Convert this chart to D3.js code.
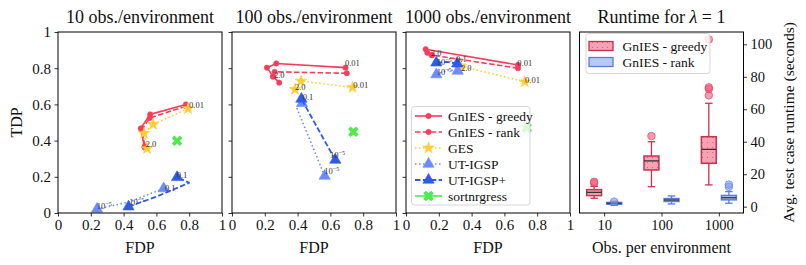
<!DOCTYPE html>
<html><head><meta charset="utf-8">
<script src="https://cdn.jsdelivr.net/npm/d3@7"></script>
<style>
body{margin:0;background:#fff}
svg{display:block}
text{font-family:"Liberation Serif","Times New Roman",serif;fill:#111}
</style>
</head><body>
<svg id="c" width="806" height="265"></svg>
<script>
// ---------------- data ----------------
const panelTitles = ["10 obs./environment", "100 obs./environment", "1000 obs./environment"];
const axisTicks = [0, 0.2, 0.4, 0.6, 0.8, 1];
const axisTickLabels = ["0", "0.2", "0.4", "0.6", "0.8", "1"];

// [FDP, TDP] per panel
const gniesGreedy = [
  [[0.78,0.60],[0.562,0.545],[0.505,0.468],[0.527,0.363]],
  [[0.692,0.803],[0.27,0.826],[0.213,0.803],[0.25,0.755],[0.288,0.72]],
  [[0.683,0.818],[0.12,0.905],[0.13,0.885],[0.155,0.873]]
];
const gniesRank = [
  [[0.78,0.59],[0.56,0.525],[0.51,0.46],[0.53,0.37]],
  [[0.70,0.772],[0.26,0.78],[0.25,0.753]],
  [[0.683,0.80],[0.16,0.872]]
];
const ges = [
  [[0.793,0.577],[0.58,0.49],[0.525,0.44],[0.543,0.356]],
  [[0.735,0.694],[0.421,0.729],[0.384,0.683]],
  [[0.724,0.725],[0.335,0.812],[0.322,0.80]]
];
const utIgsp = [
  [[0.238,0.022],[0.43,0.06],[0.644,0.135]],
  [[0.565,0.204],[0.392,0.587],[0.427,0.606]],
  [[0.185,0.765],[0.25,0.79],[0.315,0.785]]
];
const utIgspPlus = [
  [[0.43,0.035],[0.60,0.09],[0.80,0.167],[0.726,0.197]],
  [[0.63,0.293],[0.423,0.63]],
  [[0.185,0.83],[0.25,0.835],[0.312,0.825]]
];
const sortnregress = [[0.726,0.399],[0.74,0.449],[0.736,0.47]];

// [FDP, TDP, label]
const annotations = [
  [[0.799,0.58,"0.01"],[0.535,0.365,"2.0"],[0.724,0.193,"0.1"],[0.652,0.119,"0.1"],[0.236,0.022,"1e-5"],[0.435,0.044,"1e-5"]],
  [[0.689,0.812,"0.01"],[0.256,0.746,"2.0"],[0.384,0.68,"2.0"],[0.74,0.69,"0.01"],[0.431,0.624,"0.1"],[0.598,0.304,"1e-5"],[0.563,0.215,"1e-5"]],
  [[0.151,0.867,"2.0"],[0.726,0.72,"0.01"],[0.679,0.812,"0.01"],[0.335,0.782,"2.0"],[0.187,0.818,"1e-5"],[0.305,0.835,"0.1"],[0.187,0.762,"1e-5"]]
];

const methodNames = ["GnIES - greedy","GnIES - rank","GES","UT-IGSP","UT-IGSP+","sortnrgress"];

// runtime box plots: [whiskerLow, q1, median, q3, whiskerHigh]
const runtimeCategories = ["10","100","1000"];
const greedyBoxes = [[5.2,6.8,8.8,10.5,12.5],[12.3,22.6,28.2,31.2,40.0],[13.4,26.7,35.3,43.1,63.7]];
const greedyOutliers = [[14.5,15.3],[43.5],[68.6,72.5,73.5,103.0]];
const rankBoxes = [[0.8,1.5,2.1,2.6,3.3],[1.7,3.2,4.1,5.0,6.6],[2.1,4.2,5.5,6.9,9.3]];
const rankOutliers = [[3.1],[],[12.2,13.6]];
const runtimeTicks = [0,20,40,60,80,100];
const boxLegend = ["GnIES - greedy","GnIES - rank"];

// ---------------- drawing ----------------
const svg = d3.select("#c");
const yTop = 32, yBot = 213, pw = 164;
const panelX = [58, 232, 406];
const red = "#f83c5c", gold = "#ffcc33", lblue = "#6b8cff", dblue = "#2e5aea", green = "#4eea4e";
const methods = [
  {data: gniesGreedy, color: red, dash: null, marker: "circle", width: 1.6},
  {data: gniesRank, color: red, dash: "5.5,2.4", marker: "circle", width: 1.6},
  {data: ges, color: gold, dash: "1.5,2.5", marker: "star", width: 1.6},
  {data: utIgsp, color: lblue, dash: "1.5,2.5", marker: "triangle", width: 1.6, endsOnly: true},
  {data: utIgspPlus, color: dblue, dash: "5.5,2.4", marker: "triangle", width: 1.8, endsOnly: true},
];
const symGen = {
  circle: d3.symbol().type(d3.symbolCircle).size(22),
  star: d3.symbol().type(d3.symbolStar).size(42),
  triangle: d3.symbol().type(d3.symbolTriangle).size(55),
  x: d3.symbol().type(d3.symbolCross).size(70)
};
const y = d3.scaleLinear().domain([0,1]).range([yBot, yTop]);

function drawMarker(g, kind, color, px, py) {
  const p = g.append("path").attr("d", symGen[kind]()).attr("fill", color).attr("stroke", color).attr("stroke-width", 0.6);
  if (kind === "x") p.attr("transform", `translate(${px},${py}) rotate(45)`).attr("stroke", "none");
  else p.attr("transform", `translate(${px},${py})`);
}

function addLabel(g, px, py, lab, size) {
  const t = g.append("text").attr("x", px).attr("y", py).attr("font-size", size).style("fill", "#333");
  if (lab === "1e-5") {
    t.append("tspan").text("10");
    t.append("tspan").attr("font-size", size * 0.72).attr("dy", -size * 0.4).text("−5");
  } else t.text(lab);
}

panelX.forEach((x0, pi) => {
  const x = d3.scaleLinear().domain([0,1]).range([x0, x0 + pw]);
  const g = svg.append("g");
  methods.forEach(m => {
    const pts = m.data[pi];
    g.append("path").datum(pts)
      .attr("d", d3.line().x(d => x(d[0])).y(d => y(d[1])))
      .attr("fill", "none").attr("stroke", m.color).attr("stroke-width", m.width)
      .attr("stroke-dasharray", m.dash).attr("stroke-linejoin", "round");
    pts.forEach((d, i) => {
      if (m.endsOnly && i !== 0 && i !== pts.length - 1) return;
      drawMarker(g, m.marker, m.color, x(d[0]), y(d[1]));
    });
  });
  drawMarker(g, "x", green, x(sortnregress[pi][0]), y(sortnregress[pi][1]));
  annotations[pi].forEach(a => addLabel(g, x(a[0]), y(a[1]), a[2], 8.5));

  const xa = svg.append("g").attr("transform", `translate(0,${yBot})`)
    .call(d3.axisBottom(x).tickValues(axisTicks).tickFormat((d,i) => axisTickLabels[i]).tickSize(3.5).tickPadding(3));
  const ya = svg.append("g").attr("transform", `translate(${x0},0)`)
    .call(d3.axisLeft(y).tickValues(axisTicks).tickFormat((d,i) => pi === 0 ? axisTickLabels[i] : "").tickSize(3.5).tickPadding(3.5));
  [xa, ya].forEach(a => {
    a.select(".domain").remove();
    a.selectAll("line").attr("stroke", "#000").attr("stroke-width", 0.8);
    a.selectAll("text").attr("font-size", 15).attr("font-family", "Liberation Serif");
  });
  xa.selectAll("text").attr("dy", "0.72em");
  svg.append("rect").attr("x", x0).attr("y", yTop).attr("width", pw).attr("height", yBot - yTop)
    .attr("fill", "none").attr("stroke", "#000").attr("stroke-width", 1);
  svg.append("text").attr("x", x0 + pw / 2).attr("y", 23).attr("text-anchor", "middle").attr("font-size", 18).text(panelTitles[pi]);
  svg.append("text").attr("x", x0 + pw / 2).attr("y", 253).attr("text-anchor", "middle").attr("font-size", 16).text("FDP");
});
svg.append("text").attr("transform", `translate(16,${(yTop + yBot) / 2}) rotate(-90)`)
  .attr("text-anchor", "middle").attr("dominant-baseline", "central").attr("font-size", 16).text("TDP");

// legend (panel 3)
{
  const lg = svg.append("g");
  lg.append("rect").attr("x", 411.5).attr("y", 106.5).attr("width", 118.5).attr("height", 98.5).attr("rx", 3)
    .attr("fill", "#fff").attr("fill-opacity", 0.8).attr("stroke", "#ccc").attr("stroke-width", 0.8);
  const legendStyles = [...methods, {color: green, dash: null, marker: "x", width: 1.6}];
  legendStyles.forEach((m, i) => {
    const yy = 116 + i * 16;
    lg.append("line").attr("x1", 415).attr("x2", 442).attr("y1", yy).attr("y2", yy)
      .attr("stroke", m.color).attr("stroke-width", m.width).attr("stroke-dasharray", m.dash);
    drawMarker(lg, m.marker, m.color, 428.5, yy);
    lg.append("text").attr("x", 448).attr("y", yy).attr("dominant-baseline", "central").attr("font-size", 13.5).text(methodNames[i]);
  });
}

// ---------------- runtime panel ----------------
{
  const x0 = 579.5;
  const xr = d3.scalePoint().domain(runtimeCategories).range([x0, x0 + pw]).padding(0.43);
  const yr = d3.scaleLinear().domain([-3.9, 107.6]).range([yBot, yTop]);
  const defs = svg.append("defs");
  const pat = defs.append("pattern").attr("id", "dots").attr("patternUnits", "userSpaceOnUse").attr("width", 5).attr("height", 5);
  pat.append("rect").attr("width", 5).attr("height", 5).attr("fill", "#f7a2b2");
  pat.append("circle").attr("cx", 2.5).attr("cy", 2.5).attr("r", 0.6).attr("fill", "#d85a74");
  const step = xr.step();
  const bw = step * 0.26, off = step * 0.175;
  const sets = [
    {boxes: greedyBoxes, outl: greedyOutliers, dx: -off, fill: "url(#dots)", edge: "#c9304f", ofill: "#f25677", oedge: "#d23c5a"},
    {boxes: rankBoxes, outl: rankOutliers, dx: off, fill: "#b9c8f8", edge: "#5a7ce0", ofill: "#7f9cf2", oedge: "#5a7ce0"}
  ];
  const g = svg.append("g");
  sets.forEach(s => {
    runtimeCategories.forEach((c, i) => {
      const cx = xr(c) + s.dx;
      const [lo, q1, md, q3, hi] = s.boxes[i];
      g.append("line").attr("x1", cx).attr("x2", cx).attr("y1", yr(hi)).attr("y2", yr(q3)).attr("stroke", s.edge).attr("stroke-width", 1.3);
      g.append("line").attr("x1", cx).attr("x2", cx).attr("y1", yr(q1)).attr("y2", yr(lo)).attr("stroke", s.edge).attr("stroke-width", 1.3);
      [lo, hi].forEach(v => g.append("line").attr("x1", cx - bw / 4).attr("x2", cx + bw / 4).attr("y1", yr(v)).attr("y2", yr(v)).attr("stroke", s.edge).attr("stroke-width", 1.3));
      g.append("rect").attr("x", cx - bw / 2).attr("y", yr(q3)).attr("width", bw).attr("height", yr(q1) - yr(q3))
        .attr("fill", s.fill).attr("stroke", s.edge).attr("stroke-width", 1.5);
      g.append("line").attr("x1", cx - bw / 2).attr("x2", cx + bw / 2).attr("y1", yr(md)).attr("y2", yr(md)).attr("stroke", "#333").attr("stroke-width", 1.3);
      s.outl[i].forEach(v => g.append("circle").attr("cx", cx).attr("cy", yr(v)).attr("r", 3.8)
        .attr("fill", s.ofill).attr("fill-opacity", 0.6).attr("stroke", s.oedge).attr("stroke-opacity", 0.6).attr("stroke-width", 1));
    });
  });
  const xa = svg.append("g").attr("transform", `translate(0,${yBot})`).call(d3.axisBottom(xr).tickSize(3.5).tickPadding(3));
  const ya = svg.append("g").attr("transform", `translate(${x0 + pw},0)`).call(d3.axisRight(yr).tickValues(runtimeTicks).tickSize(3.5).tickPadding(3.5));
  [xa, ya].forEach(a => {
    a.select(".domain").remove();
    a.selectAll("line").attr("stroke", "#000").attr("stroke-width", 0.8);
    a.selectAll("text").attr("font-size", 14.5).attr("font-family", "Liberation Serif");
  });
  xa.selectAll("text").attr("dy", "0.72em");
  svg.append("rect").attr("x", x0).attr("y", yTop).attr("width", pw).attr("height", yBot - yTop)
    .attr("fill", "none").attr("stroke", "#000").attr("stroke-width", 1);
  const tt = svg.append("text").attr("x", x0 + pw / 2).attr("y", 23).attr("text-anchor", "middle").attr("font-size", 18);
  tt.append("tspan").text("Runtime for ");
  tt.append("tspan").attr("font-style", "italic").text("λ");
  tt.append("tspan").text(" = 1");
  svg.append("text").attr("x", x0 + pw / 2).attr("y", 253).attr("text-anchor", "middle").attr("font-size", 16).text("Obs. per environment");
  svg.append("text").attr("transform", `translate(788,${(yTop + yBot) / 2}) rotate(-90)`)
    .attr("text-anchor", "middle").attr("dominant-baseline", "central").attr("font-size", 15.5).text("Avg. test case runtime (seconds)");
  const lg = svg.append("g");
  lg.append("rect").attr("x", 586).attr("y", 33.5).attr("width", 124).attr("height", 40).attr("rx", 3)
    .attr("fill", "#fff").attr("fill-opacity", 0.8).attr("stroke", "#ccc").attr("stroke-width", 0.8);
  sets.forEach((s, i) => {
    const yy = 46 + i * 16;
    lg.append("rect").attr("x", 589).attr("y", yy - 4.5).attr("width", 24).attr("height", 9)
      .attr("fill", s.fill).attr("stroke", s.edge).attr("stroke-width", 1.3);
    lg.append("text").attr("x", 622.5).attr("y", yy).attr("dominant-baseline", "central").attr("font-size", 13.5).text(boxLegend[i]);
  });
}
</script>
</body></html>
